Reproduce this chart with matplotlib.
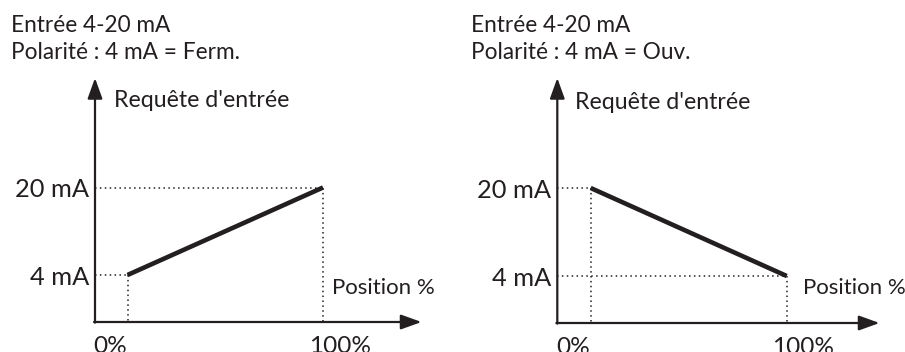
import matplotlib
matplotlib.use("Agg")
import matplotlib.pyplot as plt

plt.rcParams['font.family'] = ['Lato', 'DejaVu Sans']

# figure size in pixels (dpi 100)
W, H = 905, 352
INK = '#231f20'

# data: valve position (%) vs input request (mA)
positions = [0, 100]
current_ferm = [4, 20]   # 4 mA = Ferm.
current_ouv = [20, 4]    # 4 mA = Ouv.
levels = [4, 20]
level_labels = ['4 mA', '20 mA']
pos_labels = ['0%', '100%']
titles = ['Entrée 4-20 mA\nPolarité : 4 mA = Ferm.',
          'Entrée 4-20 mA\nPolarité : 4 mA = Ouv.']
y_label = "Requête d'entrée"
x_label = 'Position %'

panels = [
    dict(x0=127.5, x100=323.0, y4=275.0, y20=187.5, yax=95.0, xax=322.0,
         xtip=421.5, ytip=78.0, tx=11, reqx=114, reqy=107, posx=332, posy=294),
    dict(x0=590.7, x100=786.7, y4=276.0, y20=188.0, yax=557.3, xax=323.0,
         xtip=879.5, ytip=78.0, tx=471, reqx=575, reqy=109, posx=803, posy=293.5),
]
series = [current_ferm, current_ouv]

fig = plt.figure(figsize=(W / 100, H / 100), dpi=100)


def ftext(x, y, s, **kw):
    # text placed at pixel position (y measured from the top)
    fig.text(x / W, 1 - y / H, s, color=INK, **kw)


for p, cur, title in zip(panels, series, titles):
    ax = fig.add_axes([0, 0, 1, 1])
    ax.set_axis_off()
    sx = 100 / (p['x100'] - p['x0'])
    sy = 16 / (p['y4'] - p['y20'])
    ax.set_xlim(-p['x0'] * sx, (W - p['x0']) * sx)
    ax.set_ylim(4 + (p['y4'] - H) * sy, 4 + p['y4'] * sy)

    def dx(px):
        return (px - p['x0']) * sx

    def dy(py):
        return 4 + (p['y4'] - py) * sy

    xa, ya = dx(p['yax']), dy(p['xax'])

    # axes with arrow heads
    arrow = dict(arrowstyle='-|>,head_length=1.25,head_width=0.45', color=INK,
                 lw=1.6, mutation_scale=10, shrinkA=0, shrinkB=0)
    ax.annotate('', xy=(xa, dy(p['ytip'])), xytext=(xa, ya - 0.12), arrowprops=arrow)
    ax.annotate('', xy=(dx(p['xtip']), ya), xytext=(xa - 0.5, ya), arrowprops=arrow)

    # dotted guides
    dot = dict(color=INK, lw=1.1, linestyle=(0, (1, 2.2)))
    for xv, yv in zip(positions, cur):
        ax.plot([xa, xv], [yv, yv], **dot)
        ax.plot([xv, xv], [yv, ya], **dot)

    # characteristic line
    ax.plot(positions, cur, color=INK, lw=3.3, solid_capstyle='butt')

    # level labels on y axis
    for lv, lab in zip(levels, level_labels):
        ax.annotate(lab, xy=(xa, lv), xytext=(-4.3, -7), textcoords='offset points',
                    ha='right', va='baseline', fontsize=18.3, color=INK)
    # position labels under x axis
    for xv, lab, off in zip(positions, pos_labels, [-12.5, 12.0]):
        ax.annotate(lab, xy=(xv, ya), xytext=(off, -22), textcoords='offset points',
                    ha='center', va='baseline', fontsize=17.6, color=INK)

    ftext(p['tx'], 32.3, title.split('\n')[0], fontsize=16.3, va='baseline')
    ftext(p['tx'], 59.3, title.split('\n')[1], fontsize=16.3, va='baseline')
    ftext(p['reqx'], p['reqy'], y_label, fontsize=16.7, va='baseline')
    ftext(p['posx'], p['posy'], x_label, fontsize=16, va='baseline')

fig.savefig('out.png', dpi=100, facecolor='white')
